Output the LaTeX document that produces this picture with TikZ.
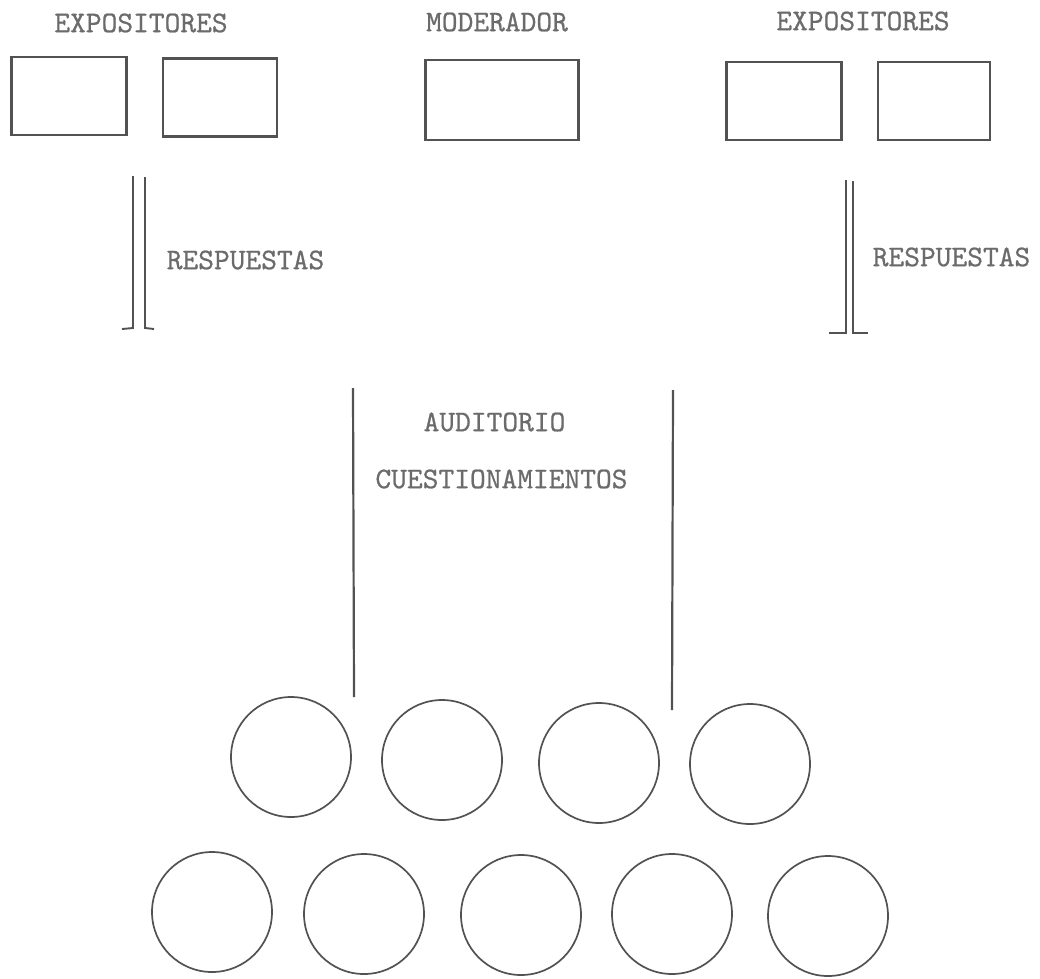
\documentclass[tikz,border=0pt]{standalone}
\usepackage{fontspec}
\newfontfamily\twfont{lmmono10-regular.otf}[FakeBold=0.7]
\begin{document}
\begin{tikzpicture}[x=1pt,y=-1pt,
  ink/.style={draw=black!68},
  seat/.style={ink, line width=2.6pt, rectangle, inner sep=0pt},
  person/.style={ink, line width=1.7pt, circle, minimum size=120pt, inner sep=0pt},
  lbl/.style={text=black!58, inner sep=0pt, font=\fontsize{30}{34}\selectfont\twfont},
  rule/.style={ink, line width=2.2pt},
  thin/.style={ink, line width=1.9pt}]
\useasboundingbox (0,0) rectangle (1040,978);
% top labels
\node[lbl] (expL) at (141,23) {EXPOSITORES};
\node[lbl] (mod)  at (497,22) {MODERADOR};
\node[lbl] (expR) at (863,21) {EXPOSITORES};
% boxes
\node[seat, minimum width=115pt, minimum height=78pt] (b1) at (69,96) {};
\node[seat, minimum width=114pt, minimum height=78pt] (b2) at (220,97.5) {};
\node[seat, minimum width=153pt, minimum height=80pt] (bm) at (502,100) {};
\node[seat, minimum width=115pt, minimum height=78pt] (b3) at (784,101) {};
\node[seat, minimum width=112pt, minimum height=78pt] (b4) at (934,101) {};
% left double line
\coordinate (l1t) at (133,176); \coordinate (l1b) at (133,328);
\coordinate (l2t) at (145,177); \coordinate (l2b) at (145,328);
\coordinate (l1f) at (122,329); \coordinate (l2f) at (154,329);
\draw[thin] (l1t) -- (l1b) -- (l1f);
\draw[thin] (l2t) -- (l2b) -- (l2f);
\node[lbl] (respL) at (245.5,260) {RESPUESTAS};
% right double line
\coordinate (r1t) at (846,180); \coordinate (r1b) at (846,333);
\coordinate (r2t) at (853,181); \coordinate (r2b) at (853,333);
\coordinate (r1f) at (829,333); \coordinate (r2f) at (868,333);
\draw[thin] (r1t) -- (r1b) -- (r1f);
\draw[thin] (r2t) -- (r2b) -- (r2f);
\node[lbl] (respR) at (951.5,257) {RESPUESTAS};
% audience
\node[lbl] (aud)  at (494.5,422) {AUDITORIO};
\node[lbl] (cues) at (501.5,479) {CUESTIONAMIENTOS};
\coordinate (vlt) at (353,388); \coordinate (vlb) at (354,697);
\coordinate (vrt) at (673,390); \coordinate (vrb) at (672,710);
\draw[rule] (vlt) -- (vlb);
\draw[rule] (vrt) -- (vrb);
% circles
\node[person] (p1) at (291,757) {};
\node[person] (p2) at (442,760) {};
\node[person] (p3) at (599,763) {};
\node[person] (p4) at (750,764) {};
\node[person] (q1) at (212,912) {};
\node[person] (q2) at (364,914) {};
\node[person] (q3) at (521,915) {};
\node[person] (q4) at (672,914) {};
\node[person] (q5) at (828,916) {};
\end{tikzpicture}
\end{document}
